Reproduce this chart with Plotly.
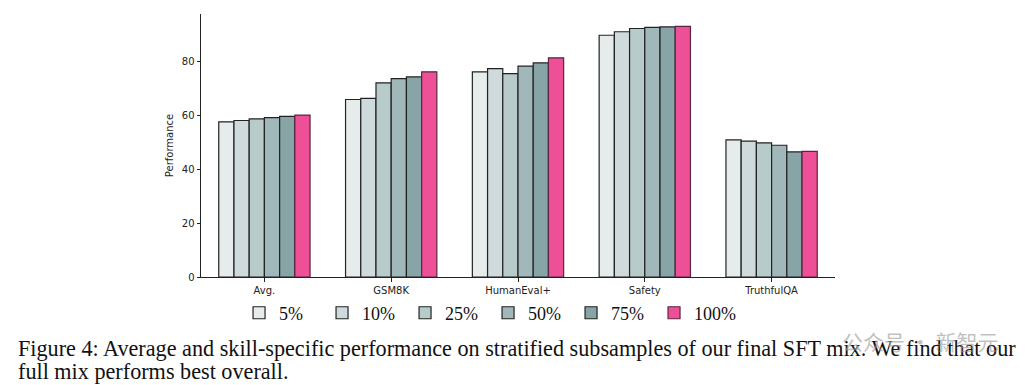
import plotly.graph_objects as go

categories = ["Avg.", "GSM8K", "HumanEval+", "Safety", "TruthfulQA"]
series_names = ["5%", "10%", "25%", "50%", "75%", "100%"]
values_5 = [57.7, 66.0, 76.3, 89.9, 51.0]
values_10 = [58.2, 66.4, 77.5, 91.2, 50.5]
values_25 = [58.8, 72.2, 75.6, 92.4, 49.9]
values_50 = [59.3, 73.8, 78.4, 92.8, 49.0]
values_75 = [59.7, 74.4, 79.6, 93.0, 46.5]
values_100 = [60.2, 76.3, 81.5, 93.2, 46.7]
y_ticks = [0, 20, 40, 60, 80]

all_values = [values_5, values_10, values_25, values_50, values_75, values_100]
colors = ["#e6ecec", "#cfdadd", "#b6cbca", "#a0b8ba", "#87a5a6", "#ee5097"]
edges = ["#222222", "#222222", "#222222", "#222222", "#222222", "#5a2540"]

fig = go.Figure()
for name, vals, c, e in zip(series_names, all_values, colors, edges):
    fig.add_trace(go.Bar(
        x=categories, y=vals, name=name,
        marker=dict(color=c, line=dict(color=e, width=1.2)),
    ))

fig.update_layout(
    width=1019, height=377,
    margin=dict(l=193, r=192, t=6, b=108),
    paper_bgcolor="white", plot_bgcolor="white",
    barmode="group", bargap=0.28, bargroupgap=0,
    font=dict(family="DejaVu Sans", size=10, color="#222222"),
    showlegend=True,
    legend=dict(
        orientation="h", x=0.060, y=-0.137, xanchor="left", yanchor="middle",
        font=dict(family="Liberation Serif", size=18, color="#111111"),
        entrywidth=38, entrywidthmode="pixels",
        itemwidth=30, tracegroupgap=0, bgcolor="rgba(0,0,0,0)",
    ),
    xaxis=dict(
        range=[-0.5, 4.5], showline=True, linecolor="#222222", linewidth=1,
        ticks="outside", ticklen=3.5, tickcolor="#222222", showgrid=False,
        tickfont=dict(family="DejaVu Sans", size=10, color="#222222"),
    ),
    yaxis=dict(
        range=[0, 97.8], tickvals=y_ticks, showline=True, linecolor="#222222", linewidth=1,
        ticks="outside", ticklen=3.5, tickcolor="#222222", showgrid=False, zeroline=False,
        title=dict(text="Performance", font=dict(family="DejaVu Sans", size=10, color="#222222"), standoff=6),
        tickfont=dict(family="DejaVu Sans", size=10, color="#222222"),
    ),
    annotations=[
        dict(text="Figure 4: Average and skill-specific performance on stratified subsamples of our final SFT mix. We find that our",
             xref="paper", yref="paper", x=-0.292, y=-0.272, xanchor="left", yanchor="middle",
             showarrow=False, font=dict(family="Liberation Serif", size=22.2, color="#111111")),
        dict(text="full mix performs best overall.",
             xref="paper", yref="paper", x=-0.292, y=-0.358, xanchor="left", yanchor="middle",
             showarrow=False, font=dict(family="Liberation Serif", size=22.2, color="#111111")),
        dict(text="公众号 · 新智元",
             xref="paper", yref="paper", x=1.134, y=-0.245, xanchor="center", yanchor="middle",
             showarrow=False, font=dict(family="Noto Sans CJK SC", size=21, color="rgba(150,150,150,0.6)")),
    ],
)

fig.write_html("out.html")
